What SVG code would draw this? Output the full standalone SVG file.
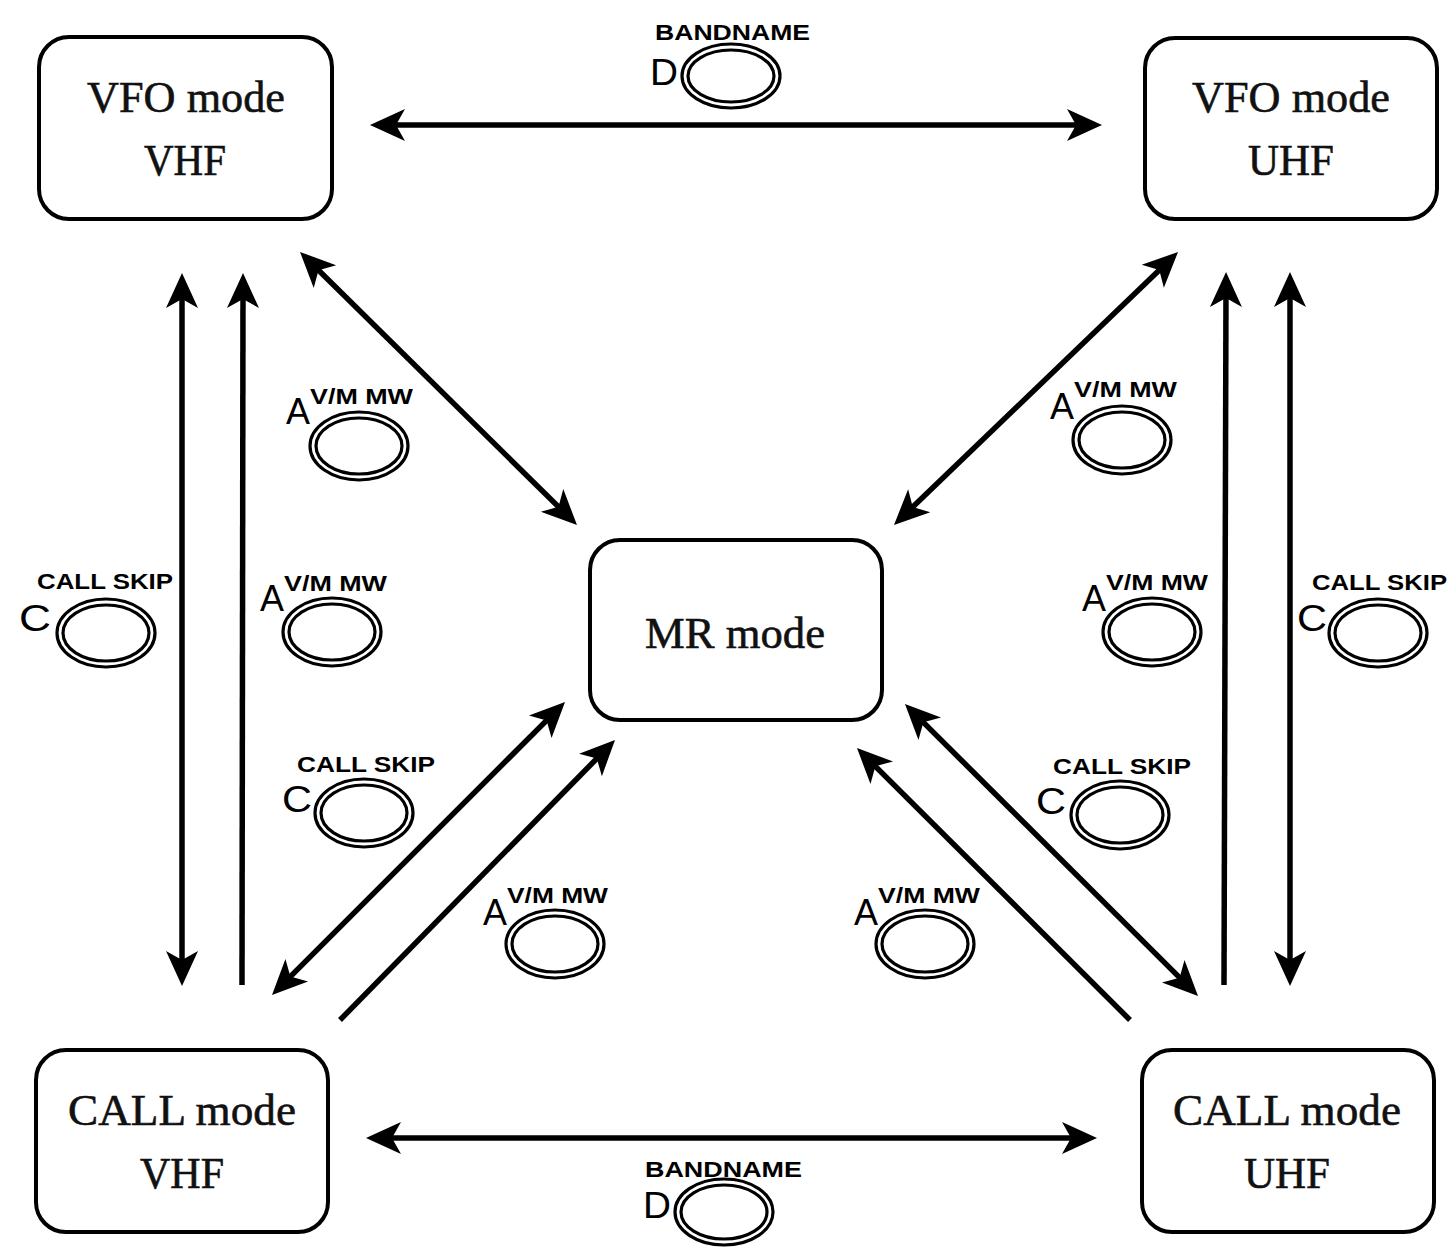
<svg xmlns="http://www.w3.org/2000/svg" width="1447" height="1247" viewBox="0 0 1447 1247">
<style>
.node rect{fill:#fff;stroke:#000;stroke-width:4}
.nt{font-family:"Liberation Serif",serif;font-size:45px;fill:#111;stroke:#111;stroke-width:0.6;text-anchor:middle}
.conn line{stroke:#000;stroke-width:5.5;fill:none}
.btn ellipse{fill:none;stroke:#000;stroke-width:3.2}
.lbl{font-family:"Liberation Sans",Arial,sans-serif;font-size:22px;font-weight:bold;fill:#000}
.key{font-family:"Liberation Sans",Arial,sans-serif;font-size:37px;fill:#000}
</style>
<defs>
<marker id="ah" viewBox="-22 -18 40 36" refX="0" refY="0" markerWidth="40" markerHeight="36" markerUnits="userSpaceOnUse" orient="auto-start-reverse">
<path d="M15,0 L-20,-16 L-11,0 L-20,16 Z" fill="#000"/>
</marker>
</defs>
<rect width="1447" height="1247" fill="#fff"/>

<g id="vfo-vhf" class="node">
<rect x="39" y="37" width="293" height="182" rx="30"/>
<text class="nt" x="186" y="112" textLength="198" lengthAdjust="spacingAndGlyphs">VFO mode</text>
<text class="nt" x="185" y="175" textLength="82" lengthAdjust="spacingAndGlyphs">VHF</text>
</g>
<g id="vfo-uhf" class="node">
<rect x="1145" y="38" width="292" height="181" rx="30"/>
<text class="nt" x="1291" y="112" textLength="198" lengthAdjust="spacingAndGlyphs">VFO mode</text>
<text class="nt" x="1291" y="175" textLength="86" lengthAdjust="spacingAndGlyphs">UHF</text>
</g>
<g id="mr" class="node">
<rect x="590" y="540" width="292" height="180" rx="30"/>
<text class="nt" x="735" y="648" textLength="180" lengthAdjust="spacingAndGlyphs">MR mode</text>
</g>
<g id="call-vhf" class="node">
<rect x="36" y="1050" width="292" height="182" rx="30"/>
<text class="nt" x="182" y="1125" textLength="228" lengthAdjust="spacingAndGlyphs">CALL mode</text>
<text class="nt" x="182" y="1188" textLength="84" lengthAdjust="spacingAndGlyphs">VHF</text>
</g>
<g id="call-uhf" class="node">
<rect x="1142" y="1050" width="292" height="182" rx="30"/>
<text class="nt" x="1287" y="1125" textLength="228" lengthAdjust="spacingAndGlyphs">CALL mode</text>
<text class="nt" x="1287" y="1188" textLength="86" lengthAdjust="spacingAndGlyphs">UHF</text>
</g>

<g id="connectors" class="conn">
<line x1="385" y1="125" x2="1087" y2="125" marker-start="url(#ah)" marker-end="url(#ah)"/>
<line x1="381" y1="1138" x2="1082" y2="1138" marker-start="url(#ah)" marker-end="url(#ah)"/>
<line x1="182" y1="288" x2="182" y2="971" marker-start="url(#ah)" marker-end="url(#ah)"/>
<line x1="242" y1="985" x2="243" y2="288" marker-end="url(#ah)"/>
<line x1="1224" y1="985" x2="1226" y2="287" marker-end="url(#ah)"/>
<line x1="1290" y1="287" x2="1290" y2="971" marker-start="url(#ah)" marker-end="url(#ah)"/>
<line x1="310.7" y1="262.5" x2="566.3" y2="514.5" marker-start="url(#ah)" marker-end="url(#ah)"/>
<line x1="1167.2" y1="262.4" x2="904.8" y2="514.6" marker-start="url(#ah)" marker-end="url(#ah)"/>
<line x1="554.4" y1="712.6" x2="282.6" y2="984.4" marker-start="url(#ah)" marker-end="url(#ah)"/>
<line x1="340" y1="1020" x2="604.5" y2="750.7" marker-end="url(#ah)"/>
<line x1="915.6" y1="714.6" x2="1187.4" y2="985.4" marker-start="url(#ah)" marker-end="url(#ah)"/>
<line x1="1130" y1="1020" x2="867.6" y2="758.6" marker-end="url(#ah)"/>
</g>

<g id="btn-d-top" class="btn">
<text class="lbl" x="655" y="40" textLength="155" lengthAdjust="spacingAndGlyphs">BANDNAME</text>
<text class="key" x="650" y="85" textLength="28" lengthAdjust="spacingAndGlyphs">D</text>
<ellipse cx="731" cy="76" rx="49" ry="32"/>
<ellipse cx="731" cy="76" rx="43" ry="26"/>
</g>
<g id="btn-a-lu" class="btn">
<text class="lbl" x="310" y="404" textLength="103" lengthAdjust="spacingAndGlyphs">V/M MW</text>
<text class="key" x="286" y="424" textLength="24" lengthAdjust="spacingAndGlyphs">A</text>
<ellipse cx="359" cy="446" rx="49" ry="34"/>
<ellipse cx="359" cy="446" rx="43" ry="28"/>
</g>
<g id="btn-a-lm" class="btn">
<text class="lbl" x="284" y="591" textLength="103" lengthAdjust="spacingAndGlyphs">V/M MW</text>
<text class="key" x="260" y="611" textLength="24" lengthAdjust="spacingAndGlyphs">A</text>
<ellipse cx="332" cy="632" rx="49" ry="34"/>
<ellipse cx="332" cy="632" rx="43" ry="28"/>
</g>
<g id="btn-c-l" class="btn">
<text class="lbl" x="37" y="589" textLength="136" lengthAdjust="spacingAndGlyphs">CALL SKIP</text>
<text class="key" x="19" y="631" textLength="32" lengthAdjust="spacingAndGlyphs">C</text>
<ellipse cx="106" cy="633" rx="49" ry="34"/>
<ellipse cx="106" cy="633" rx="43" ry="28"/>
</g>
<g id="btn-c-lm" class="btn">
<text class="lbl" x="297" y="772" textLength="138" lengthAdjust="spacingAndGlyphs">CALL SKIP</text>
<text class="key" x="282" y="812" textLength="30" lengthAdjust="spacingAndGlyphs">C</text>
<ellipse cx="364" cy="813" rx="49" ry="34"/>
<ellipse cx="364" cy="813" rx="43" ry="28"/>
</g>
<g id="btn-a-lb" class="btn">
<text class="lbl" x="507" y="903" textLength="101" lengthAdjust="spacingAndGlyphs">V/M MW</text>
<text class="key" x="483" y="925" textLength="24" lengthAdjust="spacingAndGlyphs">A</text>
<ellipse cx="555" cy="944" rx="49" ry="34"/>
<ellipse cx="555" cy="944" rx="43" ry="28"/>
</g>
<g id="btn-a-rb" class="btn">
<text class="lbl" x="878" y="903" textLength="102" lengthAdjust="spacingAndGlyphs">V/M MW</text>
<text class="key" x="854" y="925" textLength="24" lengthAdjust="spacingAndGlyphs">A</text>
<ellipse cx="925" cy="944" rx="49" ry="34"/>
<ellipse cx="925" cy="944" rx="43" ry="28"/>
</g>
<g id="btn-c-rm" class="btn">
<text class="lbl" x="1053" y="774" textLength="138" lengthAdjust="spacingAndGlyphs">CALL SKIP</text>
<text class="key" x="1036" y="814" textLength="30" lengthAdjust="spacingAndGlyphs">C</text>
<ellipse cx="1120" cy="815" rx="49" ry="34"/>
<ellipse cx="1120" cy="815" rx="43" ry="28"/>
</g>
<g id="btn-a-rm" class="btn">
<text class="lbl" x="1106" y="590" textLength="102" lengthAdjust="spacingAndGlyphs">V/M MW</text>
<text class="key" x="1082" y="611" textLength="24" lengthAdjust="spacingAndGlyphs">A</text>
<ellipse cx="1152" cy="632" rx="49" ry="34"/>
<ellipse cx="1152" cy="632" rx="43" ry="28"/>
</g>
<g id="btn-a-ru" class="btn">
<text class="lbl" x="1074" y="397" textLength="103" lengthAdjust="spacingAndGlyphs">V/M MW</text>
<text class="key" x="1050" y="419" textLength="24" lengthAdjust="spacingAndGlyphs">A</text>
<ellipse cx="1122" cy="440" rx="49" ry="34"/>
<ellipse cx="1122" cy="440" rx="43" ry="28"/>
</g>
<g id="btn-c-r" class="btn">
<text class="lbl" x="1312" y="590" textLength="135" lengthAdjust="spacingAndGlyphs">CALL SKIP</text>
<text class="key" x="1297" y="631" textLength="30" lengthAdjust="spacingAndGlyphs">C</text>
<ellipse cx="1378" cy="633" rx="49" ry="34"/>
<ellipse cx="1378" cy="633" rx="43" ry="28"/>
</g>
<g id="btn-d-bot" class="btn">
<text class="lbl" x="645" y="1177" textLength="157" lengthAdjust="spacingAndGlyphs">BANDNAME</text>
<text class="key" x="643" y="1218" textLength="28" lengthAdjust="spacingAndGlyphs">D</text>
<ellipse cx="724" cy="1212" rx="49" ry="33"/>
<ellipse cx="724" cy="1212" rx="43" ry="27"/>
</g>
</svg>
